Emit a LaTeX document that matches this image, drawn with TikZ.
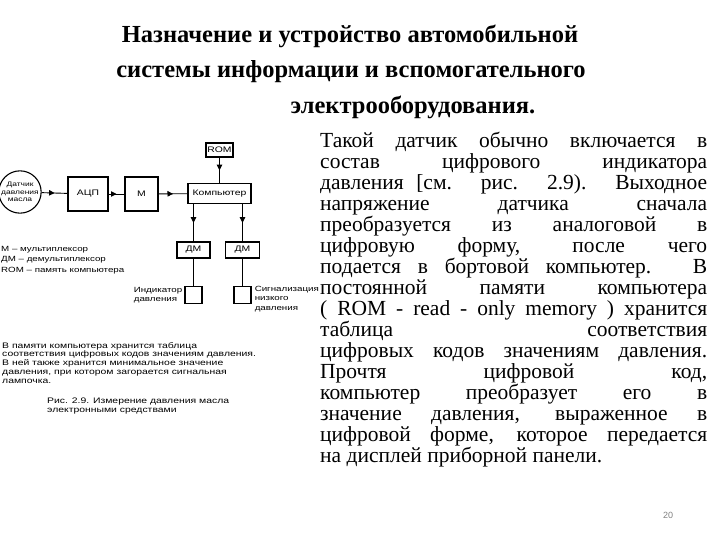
\documentclass[tikz,border=0pt]{standalone}
\usepackage{fontspec}
\setmainfont{Liberation Serif}
\newfontfamily\figfont[FakeStretch=1.3]{Liberation Sans}
\newfontfamily\numfont{Liberation Sans}
\usetikzlibrary{arrows.meta, decorations.markings}
\newcommand{\titlefont}{\fontsize{24.5}{28}\selectfont\bfseries}
\newcommand{\bodyfont}{\fontsize{21.5}{21}\selectfont}
\tikzset{
  blok/.style={draw, line width=1.1pt, inner sep=0pt, font=\figfont\fontsize{8}{9}\selectfont},
  link/.style={line width=0.9pt,
    decoration={markings, mark=at position 0.5 with {\arrow{Triangle[length=5.5pt, width=5.5pt]}}},
    postaction={decorate}},
  wire/.style={line width=0.9pt},
  figtext/.style={font=\figfont\fontsize{8}{8.8}\selectfont, align=left, inner sep=0pt},
}
\begin{document}
\begin{tikzpicture}[x=1pt, y=-1pt]
    \useasboundingbox (0,0) rectangle (720,540);
    % title
    \node[anchor=base] (title1) at (350,43) {\titlefont Назначение и устройство автомобильной};
    \node[anchor=base] (title2) at (351,78) {\titlefont системы информации и вспомогательного};
    \node[anchor=base] (title3) at (413,114) {\titlefont электрооборудования.};
    % block diagram, fig. 2.9
    \node[blok, circle, minimum size=34pt, align=center, font=\figfont\fontsize{6.5}{7.5}\selectfont] (sensor) at (20,192) {Датчик\\давления\\масла};
    \node[blok, minimum width=40pt, minimum height=34pt] (adc) at (88,194) {АЦП};
    \node[blok, minimum width=33pt, minimum height=34pt] (mux) at (141.5,194) {М};
    \node[blok, minimum width=63pt, minimum height=20pt] (comp) at (219.5,193.5) {Компьютер};
    \node[blok, minimum width=27pt, minimum height=14pt] (rom) at (219.5,150) {ROM};
    \node[blok, minimum width=33pt, minimum height=16pt] (dm1) at (193.5,250) {ДМ};
    \node[blok, minimum width=34pt, minimum height=16pt] (dm2) at (242.5,250) {ДМ};
    \node[blok, minimum size=17pt] (ind) at (193.5,295) {};
    \node[blok, minimum size=17pt] (sig) at (242.5,295) {};
    \node[figtext, anchor=east, font=\figfont\fontsize{7.5}{9.5}\selectfont] (indlabel) at ([xshift=-2pt]ind.west) {Индикатор\\давления};
    \node[figtext, anchor=north west, font=\figfont\fontsize{7.5}{9.5}\selectfont] (siglabel) at ([xshift=3pt]sig.north east) {Сигнализация\\низкого\\давления};
    \draw[link] (sensor) -- (adc);
    \draw[link] (adc) -- (mux);
    \draw[link] (mux) -- (comp);
    \draw[link] (rom) -- (comp);
    \draw[link] (comp.south -| dm1) -- (dm1);
    \draw[link] (comp.south -| dm2) -- (dm2);
    \draw[wire] (dm1) -- (ind);
    \draw[wire] (dm2) -- (sig);
    % legend and notes
    \node[figtext, anchor=north west, font=\figfont\fontsize{7.5}{10.5}\selectfont] (legend) at (1,246)
      {М – мультиплексор\\ДМ – демультиплексор\\ROM – память компьютера};
    \node[figtext, anchor=north west] (note) at (2,342)
      {В памяти компьютера хранится таблица\\соответствия цифровых кодов значениям давления.\\В ней также хранится минимальное значение\\давления, при котором загорается сигнальная\\лампочка.};
    \node[figtext, anchor=north west] (caption) at (47,398)
      {Рис. 2.9. Измерение давления масла\\электронными средствами};
    % right column
    \node[anchor=north west, inner sep=0pt] (body) at (320,132) {\parbox{387pt}{\bodyfont
      Такой датчик обычно включается в\linebreak
      состав цифрового индикатора\linebreak
      давления [см. рис. 2.9). Выходное\linebreak
      напряжение датчика сначала\linebreak
      преобразуется из аналоговой в\linebreak
      цифровую форму, после чего\linebreak
      подается в бортовой компьютер. В\linebreak
      постоянной памяти компьютера\linebreak
      ( ROM - read - only memory ) хранится\linebreak
      таблица соответствия\linebreak
      цифровых кодов значениям давления.\linebreak
      Прочтя цифровой код,\linebreak
      компьютер преобразует его в\linebreak
      значение давления, выраженное в\linebreak
      цифровой форме, которое передается\linebreak
      на дисплей приборной панели.}};
    \node[font=\numfont\fontsize{9}{9}\selectfont, text=gray] (pagenum) at (668,515) {20};
\end{tikzpicture}
\end{document}
